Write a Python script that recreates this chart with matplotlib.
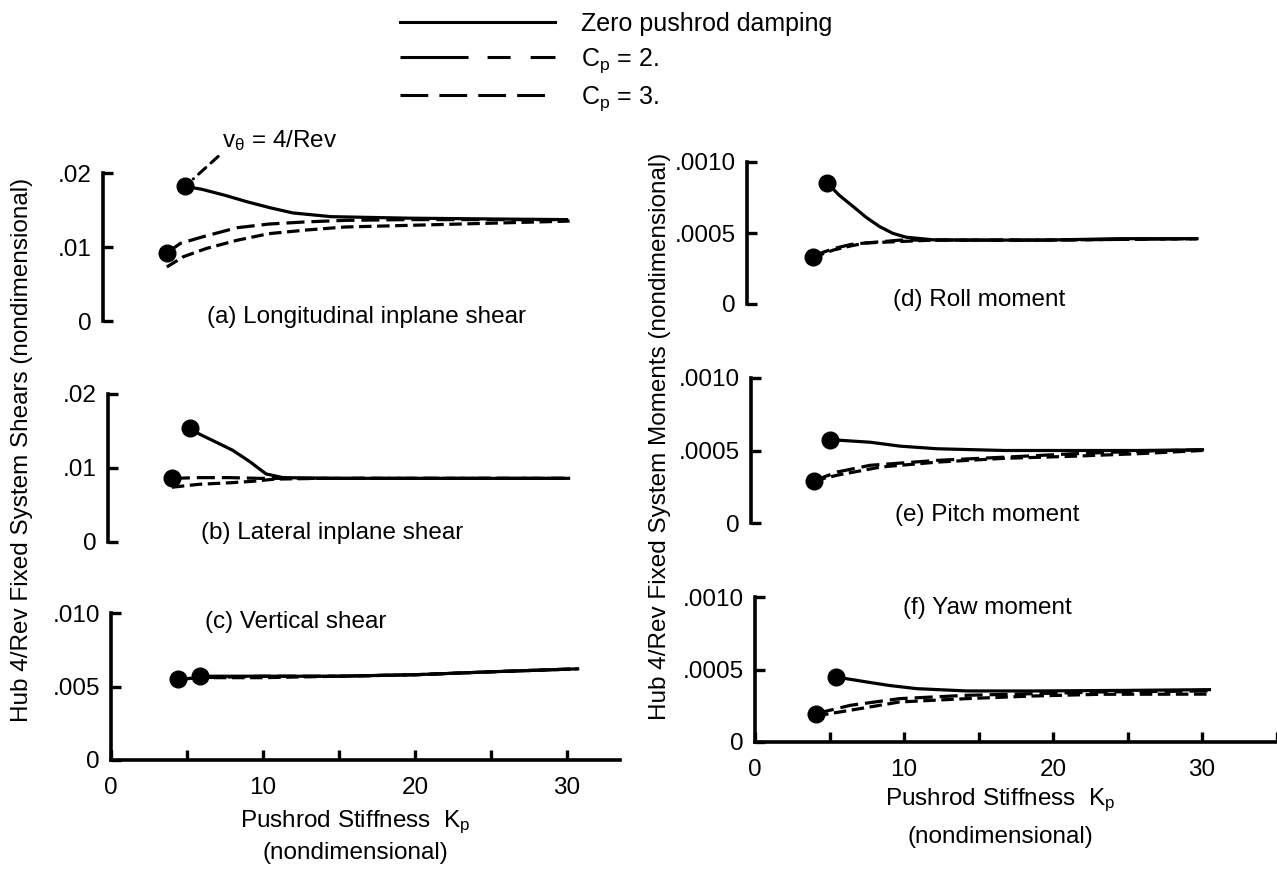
import matplotlib
matplotlib.use('Agg')
import matplotlib.pyplot as plt
from matplotlib.lines import Line2D

plt.rcParams['font.family'] = ['Liberation Sans', 'DejaVu Sans']
plt.rcParams['mathtext.fontset'] = 'custom'
plt.rcParams['mathtext.rm'] = 'Liberation Sans'
plt.rcParams['mathtext.it'] = 'Liberation Sans:italic'
plt.rcParams['lines.scale_dashes'] = False

# ---------------- data ----------------
series_labels = ['Zero pushrod damping', r'C$_{\rm p}$ = 2.', r'C$_{\rm p}$ = 3.']

# (a) Longitudinal inplane shear
a_zero_x = [5.4, 6.5, 8.0, 9.5, 11.0, 12.5, 15.0, 20.0, 25.0, 30.5]
a_zero_y = [0.0182, 0.0178, 0.0170, 0.0161, 0.0153, 0.0146, 0.0141, 0.0139, 0.0138, 0.0137]
a_cp2_x = [4.2, 5.1, 6.6, 8.8, 10.9, 13.4, 16.0, 20.0, 25.0, 30.5]
a_cp2_y = [0.0092, 0.0105, 0.0114, 0.0126, 0.0131, 0.0134, 0.0136, 0.0137, 0.0137, 0.0137]
a_cp3_x = [4.2, 5.3, 6.8, 8.8, 10.9, 13.4, 15.9, 23.4, 30.7]
a_cp3_y = [0.0073, 0.0087, 0.0098, 0.0109, 0.0118, 0.0123, 0.0127, 0.0131, 0.0135]

# (b) Lateral inplane shear
b_zero_x = [5.4, 6.0, 7.0, 8.2, 9.3, 10.4, 11.5, 15.0, 20.0, 25.0, 30.3]
b_zero_y = [0.0154, 0.0146, 0.0136, 0.0124, 0.0109, 0.0092, 0.0087, 0.0086, 0.0086, 0.0086, 0.0086]
b_cp2_x = [4.2, 6.0, 8.0, 10.0, 12.0, 15.0, 20.0, 25.0, 30.3]
b_cp2_y = [0.0086, 0.0087, 0.0087, 0.0086, 0.0086, 0.0086, 0.0086, 0.0086, 0.0086]
b_cp3_x = [4.2, 6.0, 8.0, 9.5, 11.0, 14.0, 20.0, 30.3]
b_cp3_y = [0.0074, 0.0078, 0.0080, 0.0082, 0.0085, 0.0086, 0.0086, 0.0086]

# (c) Vertical shear
c_zero_x = [5.85, 10.0, 15.0, 20.0, 25.0, 30.7]
c_zero_y = [0.0057, 0.0057, 0.0057, 0.0058, 0.0060, 0.0062]
c_cp2_x = [4.4, 6.0, 10.0, 15.0, 20.0, 25.0, 30.7]
c_cp2_y = [0.0055, 0.0056, 0.0057, 0.0057, 0.0058, 0.0060, 0.0062]
c_cp3_x = [4.4, 6.0, 10.0, 15.0, 20.0, 25.0, 30.7]
c_cp3_y = [0.0055, 0.0056, 0.0056, 0.0057, 0.0058, 0.0060, 0.0062]

# (d) Roll moment
d_zero_x = [5.4, 6.2, 7.2, 8.0, 8.9, 9.8, 10.7, 12.5, 15.0, 20.0, 25.0, 30.2]
d_zero_y = [0.00085, 0.000765, 0.00068, 0.00061, 0.000545, 0.000497, 0.00047, 0.000452, 0.00045, 0.00045, 0.00046, 0.00046]
d_cp2_x = [4.4, 5.0, 5.8, 7.0, 8.0, 10.3, 12.5, 20.0, 30.2]
d_cp2_y = [0.00033, 0.00036, 0.00039, 0.00042, 0.00043, 0.00045, 0.00045, 0.00045, 0.00046]
d_cp3_x = [4.4, 5.0, 5.8, 7.0, 8.0, 10.3, 12.5, 20.0, 30.2]
d_cp3_y = [0.00032, 0.00035, 0.00038, 0.00041, 0.00043, 0.00044, 0.00045, 0.00045, 0.00046]

# (e) Pitch moment
e_zero_x = [5.3, 8.0, 10.0, 12.5, 17.0, 21.5, 26.0, 30.3]
e_zero_y = [0.000575, 0.000557, 0.00053, 0.000512, 0.0005, 0.0005, 0.0005, 0.000505]
e_cp2_x = [4.2, 5.8, 8.0, 12.5, 17.0, 21.5, 26.0, 30.3]
e_cp2_y = [0.000291, 0.000352, 0.000398, 0.000432, 0.000454, 0.000477, 0.000495, 0.000505]
e_cp3_x = [4.2, 5.8, 8.7, 12.5, 17.0, 21.5, 26.0, 30.3]
e_cp3_y = [0.000291, 0.00033, 0.000386, 0.00042, 0.000446, 0.00046, 0.000478, 0.0005]

# (f) Yaw moment
f_zero_x = [5.45, 7.5, 9.0, 10.85, 14.2, 18.6, 25.0, 30.5]
f_zero_y = [0.000448, 0.000414, 0.00039, 0.000368, 0.000352, 0.000352, 0.000356, 0.000361]
f_cp2_x = [4.1, 6.4, 9.7, 14.2, 18.6, 23.2, 30.5]
f_cp2_y = [0.000196, 0.000253, 0.000299, 0.000322, 0.000333, 0.000345, 0.000352]
f_cp3_x = [4.1, 6.4, 9.7, 14.2, 18.6, 23.2, 30.5]
f_cp3_y = [0.00018, 0.000219, 0.000276, 0.000299, 0.000317, 0.000329, 0.00033]

titles = ['(a) Longitudinal inplane shear', '(b) Lateral inplane shear', '(c) Vertical shear',
          '(d) Roll moment', '(e) Pitch moment', '(f) Yaw moment']
shear_ticklabels = ['0', '.01', '.02']
vert_ticklabels = ['0', '.005', '.010']
moment_ticklabels = ['0', '.0005', '.0010']
x_ticklabels_left = ['0', '', '10', '', '20', '', '30']
x_ticklabels_right = ['0', '', '10', '', '20', '', '30', '']

# ---------------- figure ----------------
W, H = 1277, 877
fig = plt.figure(figsize=(W / 100, H / 100), dpi=100)
fig.patch.set_facecolor('white')
FS = 17.5
LW = 2.3


def px(x, y):
    return x / W, 1 - y / H


def make_axes(left, xscale, xmax, p0, ptop, R, full, yticklabels, xticklabels=None):
    ppu = (p0 - ptop) / R
    ylo = 0.0 if full else -0.15 * R
    yhi = 1.2 * R
    bottom_px = p0 - ylo * ppu
    top_px = p0 - yhi * ppu
    ax = fig.add_axes([left / W, 1 - bottom_px / H, xmax * xscale / W, (bottom_px - top_px) / H])
    ax.set_xlim(0, xmax)
    ax.set_ylim(ylo, yhi)
    ax.patch.set_alpha(0)
    for s in ['top', 'right']:
        ax.spines[s].set_visible(False)
    ax.spines['left'].set_bounds(0, R)
    ax.spines['left'].set_linewidth(2.6)
    ax.set_yticks([0, R / 2, R])
    ax.set_yticklabels(yticklabels)
    ax.tick_params(axis='y', direction='in', length=7, width=2.4, pad=8, labelsize=FS)
    if full:
        ax.spines['bottom'].set_linewidth(2.6)
        ticks = list(range(0, int(xmax) + 1, 5))
        ax.set_xticks(ticks)
        ax.set_xticklabels(xticklabels)
        ax.tick_params(axis='x', direction='in', length=7, width=2.4, pad=12, labelsize=FS)
    else:
        ax.spines['bottom'].set_visible(False)
        ax.set_xticks([])
    return ax


def draw(ax, zx, zy, c2x, c2y, c3x, c3y):
    ax.plot(c3x, c3y, color='k', lw=LW, dashes=(9, 4), clip_on=False)
    ax.plot(c2x, c2y, color='k', lw=LW, dashes=(13, 5), clip_on=False)
    ax.plot(zx, zy, color='k', lw=LW, clip_on=False)
    ax.plot(c2x[:1], c2y[:1], 'o', ms=12, color='k', clip_on=False)
    ax.plot(zx[:1], zy[:1], 'o', ms=12, color='k', clip_on=False)


LSC = 15.2   # px per unit, left column
RSC = 14.9   # px per unit, right column

axA = make_axes(103, LSC, 33.5, 321, 173, 0.02, False, shear_ticklabels)
axB = make_axes(108, LSC, 33.5, 542, 394, 0.02, False, shear_ticklabels)
axC = make_axes(111, LSC, 33.5, 760, 613, 0.010, True, vert_ticklabels, x_ticklabels_left)
axD = make_axes(747, RSC, 35, 304, 162, 0.001, False, moment_ticklabels)
axE = make_axes(751, RSC, 35, 523, 378, 0.001, False, moment_ticklabels)
axF = make_axes(755, RSC, 35, 742, 597, 0.001, True, moment_ticklabels, x_ticklabels_right)

draw(axA, a_zero_x, a_zero_y, a_cp2_x, a_cp2_y, a_cp3_x, a_cp3_y)
draw(axB, b_zero_x, b_zero_y, b_cp2_x, b_cp2_y, b_cp3_x, b_cp3_y)
draw(axC, c_zero_x, c_zero_y, c_cp2_x, c_cp2_y, c_cp3_x, c_cp3_y)
draw(axD, d_zero_x, d_zero_y, d_cp2_x, d_cp2_y, d_cp3_x, d_cp3_y)
draw(axE, e_zero_x, e_zero_y, e_cp2_x, e_cp2_y, e_cp3_x, e_cp3_y)
draw(axF, f_zero_x, f_zero_y, f_cp2_x, f_cp2_y, f_cp3_x, f_cp3_y)

# panel titles
title_pos = [(207, 317), (201, 533), (205, 622), (893, 300), (895, 515), (903, 608)]
for t, (tx, ty) in zip(titles, title_pos):
    fig.text(*px(tx, ty), t, ha='left', va='center', fontsize=FS)

# axis labels
fig.text(*px(22, 450), 'Hub 4/Rev Fixed System Shears (nondimensional)', rotation=90,
         ha='center', va='center', fontsize=FS)
fig.text(*px(660, 436), 'Hub 4/Rev Fixed System Moments (nondimensional)', rotation=90,
         ha='center', va='center', fontsize=FS)
fig.text(*px(355, 822), r'Pushrod Stiffness  K$_{\rm p}$', ha='center', va='center', fontsize=FS)
fig.text(*px(355, 853), '(nondimensional)', ha='center', va='center', fontsize=FS)
fig.text(*px(1000, 800), r'Pushrod Stiffness  K$_{\rm p}$', ha='center', va='center', fontsize=FS)
fig.text(*px(1000, 837), '(nondimensional)', ha='center', va='center', fontsize=FS)

# annotation
axA.annotate(r'v$_{\rm θ}$ = 4/Rev', xy=(a_zero_x[0], a_zero_y[0]), xycoords='data',
             xytext=(222, H - 153), textcoords='figure pixels', fontsize=FS,
             ha='left', va='bottom',
             arrowprops=dict(arrowstyle='-', lw=2.2, linestyle=(0, (7, 5)),
                             shrinkA=1, shrinkB=8, relpos=(0, 0)))

# legend
handles = [
    Line2D([], [], color='k', lw=2.2),
    Line2D([], [], color='k', lw=2.2, dashes=(49, 13.7, 16.6, 14.4, 18, 80)),
    Line2D([], [], color='k', lw=2.2, dashes=(20, 8)),
]
FSL = 18
fig.legend(handles, series_labels, loc='upper left', bbox_to_anchor=px(400, 12),
           frameon=False, fontsize=FSL, handlelength=111.6 / FSL, handletextpad=1.05,
           labelspacing=0.4, borderpad=0, borderaxespad=0)

fig.savefig('out.png', dpi=100, facecolor='white')
